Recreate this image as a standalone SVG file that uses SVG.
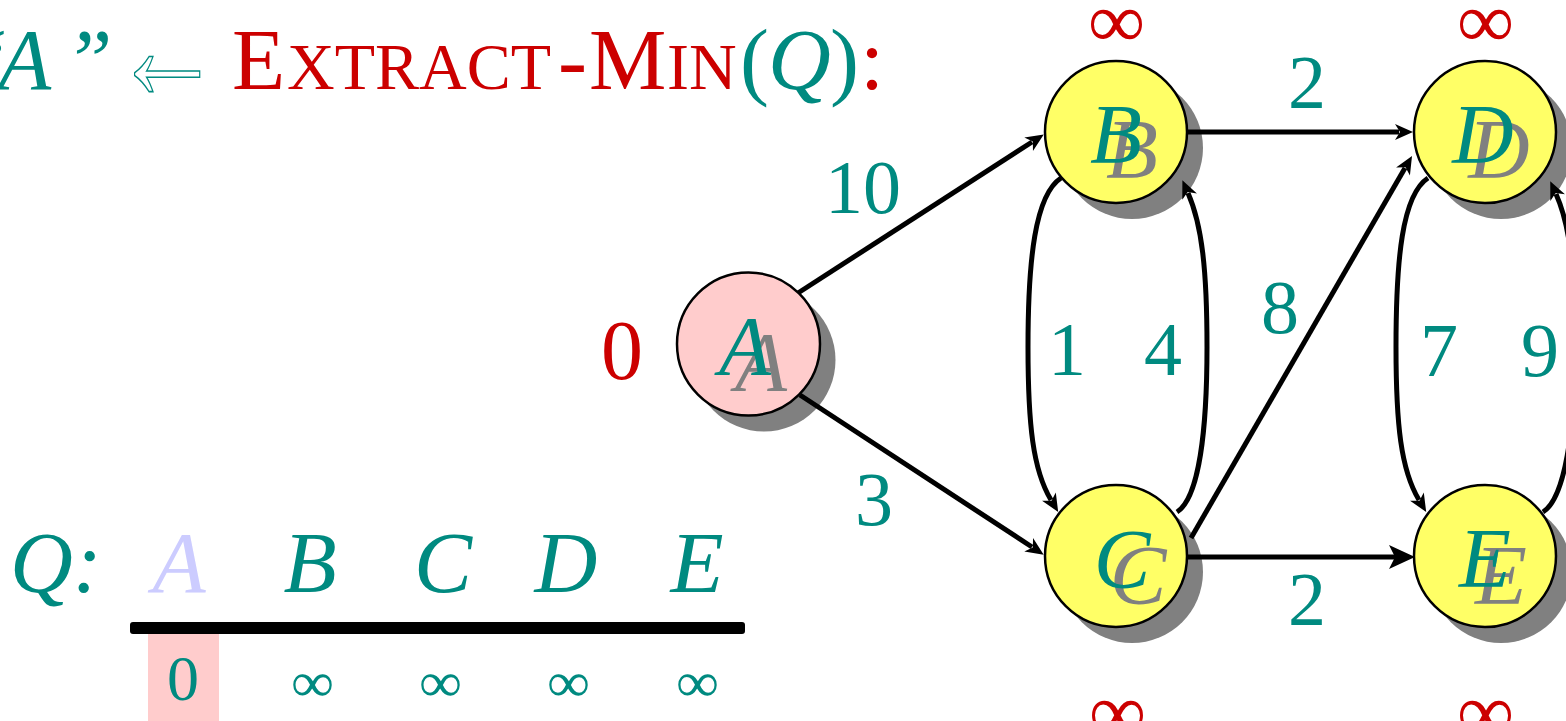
<svg xmlns="http://www.w3.org/2000/svg" width="1566" height="721" viewBox="0 0 1566 721">
<style>
.t{fill:#008a80;font-family:"Liberation Serif","Times New Roman",serif}
.r{fill:#cc0000;font-family:"Liberation Serif","Times New Roman",serif}
.i{font-style:italic}
.shadow{fill:#808080}
.node{fill:#ffff66;stroke:#000;stroke-width:2.5}
.nl{font-size:85px;font-style:italic;text-anchor:middle}
.gl{fill:#808080;font-family:"Liberation Serif","Times New Roman",serif}
.el{font-size:76px;text-anchor:middle}
.inf{font-size:78px}
.qi{font-size:56px}
.e{fill:none;stroke:#000;stroke-width:5}
</style>
<defs>
<marker id="ah" markerUnits="userSpaceOnUse" viewBox="-2 -12 24 24" markerWidth="24" markerHeight="24" refX="4" refY="0" orient="auto">
<path d="M0,-8 L18,0 L0,8 L5,0 Z" fill="#000"/>
</marker>
<marker id="ahB" markerUnits="userSpaceOnUse" viewBox="-2 -16 34 32" markerWidth="34" markerHeight="32" refX="6" refY="0" orient="auto">
<path d="M0,-12 L26,0 L0,12 L6,0 Z" fill="#000"/>
</marker>
</defs>

<g id="title">
<text y="89" font-size="87"><tspan class="t i" x="-40">“</tspan><tspan class="t i" x="-2">A</tspan><tspan class="t i" x="64">”</tspan></text>
<text x="112" y="99" font-size="150" fill="#ffffff" stroke="#008a80" stroke-width="1.6" font-family="Liberation Serif, serif" textLength="110" lengthAdjust="spacingAndGlyphs">←</text>
<text y="89"><tspan class="r" x="232" font-size="87">E</tspan><tspan class="r" x="287" font-size="66">XTRACT</tspan><tspan class="r" x="558" font-size="87">-</tspan><tspan class="r" x="589" font-size="87">M</tspan><tspan class="r" x="667" font-size="66">IN</tspan><tspan class="t" x="740" font-size="87">(</tspan><tspan class="t i" x="768" font-size="87">Q</tspan><tspan class="t" x="830" font-size="87">)</tspan><tspan class="r" x="860" font-size="87">:</tspan></text>
</g>

<g id="queue">
<text class="t i" x="10" y="592" font-size="87">Q:</text>
<text x="179" y="592" font-size="87" class="i" text-anchor="middle" fill="#ccccff" font-family="Liberation Serif, serif">A</text>
<text class="t i" x="310" y="592" font-size="87" text-anchor="middle">B</text>
<text class="t i" x="443" y="592" font-size="87" text-anchor="middle">C</text>
<text class="t i" x="566" y="592" font-size="87" text-anchor="middle">D</text>
<text class="t i" x="697" y="592" font-size="87" text-anchor="middle">E</text>
<rect x="130" y="622" width="615" height="12" rx="3" fill="#000"/>
<rect x="148" y="634" width="71" height="87" fill="#ffcccc"/>
<text class="t" x="183" y="700" font-size="64" text-anchor="middle">0</text>
<text class="t qi" x="291" y="701" textLength="43" lengthAdjust="spacingAndGlyphs">∞</text>
<text class="t qi" x="419" y="701" textLength="43" lengthAdjust="spacingAndGlyphs">∞</text>
<text class="t qi" x="547" y="701" textLength="43" lengthAdjust="spacingAndGlyphs">∞</text>
<text class="t qi" x="676" y="701" textLength="43" lengthAdjust="spacingAndGlyphs">∞</text>
</g>

<g id="node-A">
<circle class="shadow" cx="764" cy="360" r="71.5"/>
<circle cx="748.5" cy="344" r="71.5" fill="#ffcccc" stroke="#000" stroke-width="2.5"/>
<text class="gl nl" x="761" y="391">A</text>
<text class="t nl" x="745" y="375">A</text>
<text class="r" x="622" y="379" font-size="84" text-anchor="middle">0</text>
</g>

<g id="node-B">
<circle class="shadow" cx="1132" cy="148" r="71"/>
<circle class="node" cx="1116" cy="132" r="71"/>
<text class="gl nl" x="1132" y="178">B</text>
<text class="t nl" x="1116" y="163">B</text>
<text class="r inf" x="1088" y="47" textLength="57" lengthAdjust="spacingAndGlyphs">∞</text>
</g>

<g id="node-D">
<circle class="shadow" cx="1501" cy="148" r="71"/>
<circle class="node" cx="1485" cy="132" r="71"/>
<text class="gl nl" x="1499" y="178">D</text>
<text class="t nl" x="1483" y="163">D</text>
<text class="r inf" x="1457" y="47" textLength="57" lengthAdjust="spacingAndGlyphs">∞</text>
</g>

<g id="node-C">
<circle class="shadow" cx="1132" cy="572" r="71"/>
<circle class="node" cx="1116" cy="556" r="71"/>
<text class="gl nl" x="1138" y="604">C</text>
<text class="t nl" x="1122" y="588">C</text>
<text class="r inf" x="1089" y="738" textLength="57" lengthAdjust="spacingAndGlyphs">∞</text>
</g>

<g id="node-E">
<circle class="shadow" cx="1501" cy="572" r="71"/>
<circle class="node" cx="1485" cy="556" r="71"/>
<text class="gl nl" x="1501" y="604">E</text>
<text class="t nl" x="1485" y="587">E</text>
<text class="r inf" x="1457" y="738" textLength="57" lengthAdjust="spacingAndGlyphs">∞</text>
</g>

<g id="connectors">
<line class="e" x1="798" y1="293" x2="1032" y2="142" marker-end="url(#ah)"/>
<line class="e" x1="800" y1="395" x2="1032" y2="547" marker-end="url(#ah)"/>
<line class="e" x1="1187" y1="132" x2="1399" y2="132" stroke-width="6" marker-end="url(#ah)"/>
<line class="e" x1="1186" y1="557" x2="1395" y2="557" stroke-width="9" marker-end="url(#ahB)"/>
<line class="e" x1="1191" y1="538" x2="1405" y2="168" marker-end="url(#ah)"/>
<path class="e" d="M1061,178 C1035,195 1028,260 1028,347 C1028,425 1033,470 1051,500" marker-end="url(#ah)"/>
<path class="e" d="M1177,512 C1199,498 1207,430 1207,347 C1207,270 1202,225 1188,193" marker-end="url(#ah)"/>
<path class="e" d="M1428,178 C1402,195 1396,260 1396,347 C1396,425 1401,470 1419,500" marker-end="url(#ah)"/>
<path class="e" d="M1543,512 C1565,498 1575,430 1575,347 C1575,270 1570,225 1556,194" marker-end="url(#ah)"/>
</g>

<g id="edge-labels">
<text class="t el" x="863" y="213">10</text>
<text class="t el" x="874" y="525">3</text>
<text class="t el" x="1307" y="108">2</text>
<text class="t el" x="1307" y="625">2</text>
<text class="t el" x="1067" y="375">1</text>
<text class="t el" x="1163" y="375">4</text>
<text class="t el" x="1280" y="333">8</text>
<text class="t el" x="1439" y="376">7</text>
<text class="t el" x="1540" y="376">9</text>
</g>
</svg>
